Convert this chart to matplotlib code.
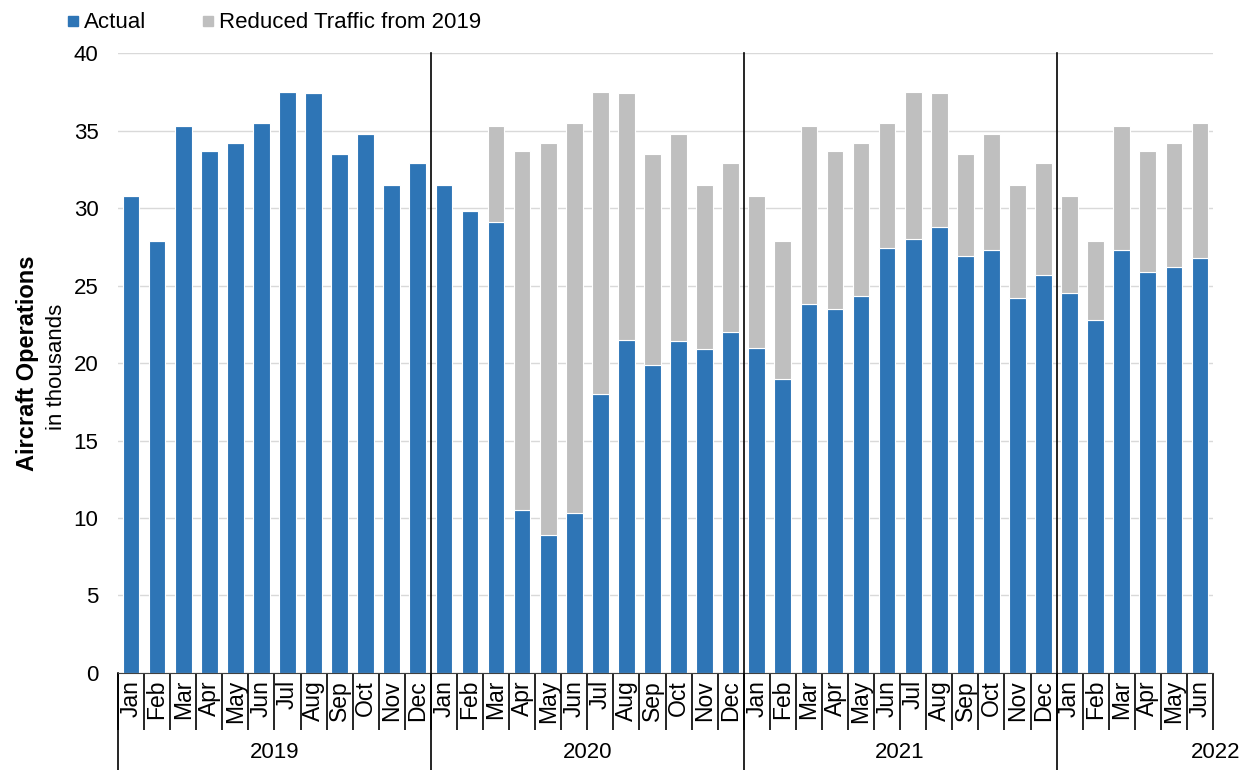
import numpy as np
import matplotlib.pyplot as plt
import matplotlib.transforms as mtransforms
from matplotlib.lines import Line2D

plt.rcParams['font.family'] = ['Liberation Sans', 'DejaVu Sans']

months = ['Jan', 'Feb', 'Mar', 'Apr', 'May', 'Jun', 'Jul', 'Aug', 'Sep', 'Oct', 'Nov', 'Dec']
years = ['2019', '2020', '2021', '2022']
months_per_year = [12, 12, 12, 6]

# actual operations, thousands
actual_2019 = [30.8, 27.9, 35.3, 33.7, 34.2, 35.5, 37.5, 37.4, 33.5, 34.8, 31.5, 32.9]
actual_2020 = [31.5, 29.8, 29.1, 10.5, 8.9, 10.3, 18.0, 21.5, 19.9, 21.4, 20.9, 22.0]
actual_2021 = [21.0, 19.0, 23.8, 23.5, 24.3, 27.4, 28.0, 28.8, 26.9, 27.3, 24.2, 25.7]
actual_2022 = [24.5, 22.8, 27.3, 25.9, 26.2, 26.8]

# reduced traffic compared with the same month of 2019
reduced_2019 = [0, 0, 0, 0, 0, 0, 0, 0, 0, 0, 0, 0]
reduced_2020 = [0, 0, 6.2, 23.2, 25.3, 25.2, 19.5, 15.9, 13.6, 13.4, 10.6, 10.9]
reduced_2021 = [9.8, 8.9, 11.5, 10.2, 9.9, 8.1, 9.5, 8.6, 6.6, 7.5, 7.3, 7.2]
reduced_2022 = [6.3, 5.1, 8.0, 7.8, 8.0, 8.7]

actual = actual_2019 + actual_2020 + actual_2021 + actual_2022
reduced = reduced_2019 + reduced_2020 + reduced_2021 + reduced_2022
labels = []
for n in months_per_year:
    labels += months[:n]

blue = '#2E75B6'
grey = '#BFBFBF'

fig = plt.figure(figsize=(12.5, 7.7), dpi=100)
ax = fig.add_axes([0.0944, 0.126, 0.876, 0.805])

x = np.arange(len(actual))
ax.bar(x, actual, width=0.64, color=blue, edgecolor='white', linewidth=0.8, zorder=2)
ax.bar(x, reduced, width=0.64, bottom=actual, color=grey, edgecolor='white', linewidth=0.8, zorder=2)

ax.set_xlim(-0.5, len(actual) - 0.5)
ax.set_ylim(0, 40)
ax.set_yticks(range(0, 41, 5))
ax.yaxis.grid(True, color='#D9D9D9', linewidth=1, zorder=0)
ax.set_axisbelow(True)
ax.tick_params(axis='y', length=0, labelsize=16, pad=14)

for s in ['top', 'right', 'left']:
    ax.spines[s].set_visible(False)
ax.spines['bottom'].set_color('#404040')

ax.set_xticks(x)
ax.set_xticklabels(labels, rotation=90, fontsize=16.5)
ax.tick_params(axis='x', which='major', length=0, pad=5)
ax.set_xticks(np.arange(-0.5, len(actual), 1), minor=True)
ax.tick_params(axis='x', which='minor', length=41, width=1.2, color='black')

# year separators and labels
trans = mtransforms.blended_transform_factory(ax.transData, ax.transAxes)
start = 0
bounds = [-0.5]
for n in months_per_year:
    start += n
    bounds.append(start - 0.5)
for b in bounds[1:-1]:
    ax.add_line(Line2D([b, b], [1.0, -0.16], transform=trans, color='black', lw=1.2, clip_on=False, zorder=3))
ax.add_line(Line2D([bounds[0], bounds[0]], [0, -0.16], transform=trans, color='black', lw=1.2, clip_on=False))

for i, yr in enumerate(years):
    cx = (bounds[i] + bounds[i + 1]) / 2
    if yr == '2022':
        cx = 41.6
    ax.text(cx, -0.128, yr, transform=trans, ha='center', va='center', fontsize=16)

# y label, two lines
fig.text(0.022, 0.528, 'Aircraft Operations', rotation=90, fontsize=17, fontweight='bold', ha='center', va='center')
fig.text(0.045, 0.523, 'in thousands', rotation=90, fontsize=16, ha='center', va='center')

handles = [Line2D([], [], marker='s', linestyle='', color=blue, markersize=7),
           Line2D([], [], marker='s', linestyle='', color=grey, markersize=7)]
fig.legend(handles, ['Actual', 'Reduced Traffic from 2019'], loc='upper left', bbox_to_anchor=(0.038, 1.01),
           ncol=2, frameon=False, fontsize=16, handlelength=0.5, handletextpad=0.25, columnspacing=2.5)

fig.savefig('out.png', dpi=100)
